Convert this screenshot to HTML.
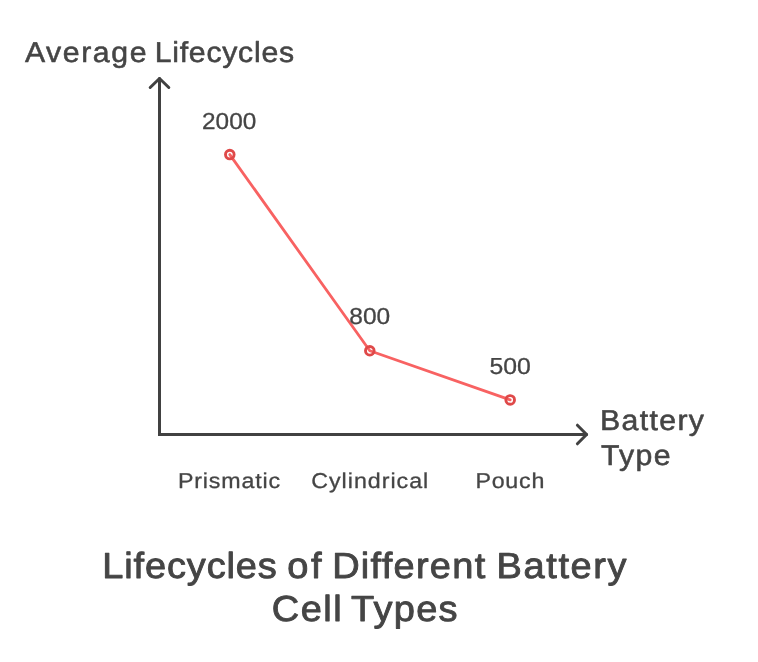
<!DOCTYPE html>
<html>
<head>
<meta charset="utf-8">
<title>Lifecycles of Different Battery Cell Types</title>
<style>
html,body{margin:0;padding:0;background:#ffffff;}
body{width:758px;height:662px;overflow:hidden;}
svg{display:block;}
text{font-family:"Liberation Sans",sans-serif;fill:#454545;stroke:#454545;stroke-linejoin:round;text-rendering:geometricPrecision;}
.ax{font-size:28.8px;stroke-width:0.55px;}
.val{font-size:23.1px;stroke-width:0.3px;}
.cat{font-size:21.5px;stroke-width:0.3px;}
.ttl{font-size:36.2px;stroke-width:0.9px;}
</style>
</head>
<body>
<svg width="758" height="662" viewBox="0 0 758 662" xmlns="http://www.w3.org/2000/svg">
  <rect width="758" height="662" fill="#ffffff"/>
  <!-- axes -->
  <g fill="none" stroke="#414141" stroke-width="3" stroke-linecap="round" stroke-linejoin="round">
    <path d="M159.5 78.5 V434.5 H586.6" stroke-linejoin="miter"/>
    <path d="M150.2 87.5 L159.5 78.5 L168.8 87.5"/>
    <path d="M577.4 425.2 L586.6 434.5 L577.4 443.8"/>
  </g>
  <!-- series -->
  <path d="M229.8 154.6 L369.8 350.8 L510.2 399.9" fill="none" stroke="#f86262" stroke-width="2.8" stroke-linecap="round" stroke-linejoin="round"/>
  <g fill="none" stroke="#df4949" stroke-width="2.9">
    <circle cx="229.8" cy="154.6" r="4.3"/>
    <circle cx="369.8" cy="350.8" r="4.3"/>
    <circle cx="510.2" cy="399.9" r="4.3"/>
  </g>
  <!-- labels -->
  <text class="ax" transform="translate(24.89 62.4) scale(1.05 1)" textLength="115.77" lengthAdjust="spacing">Average</text>
  <text class="ax" transform="translate(154.72 62.4) scale(1.05 1)" textLength="132.73" lengthAdjust="spacing">Lifecycles</text>
  <text class="ax" transform="translate(599.93 430.4) scale(1.05 1)" textLength="99.10" lengthAdjust="spacing">Battery</text>
  <text class="ax" transform="translate(600.88 464.9) scale(1.05 1)" textLength="66.32" lengthAdjust="spacing">Type</text>
  <text class="val" x="202.05" y="128.7" textLength="54.2" lengthAdjust="spacingAndGlyphs">2000</text>
  <text class="val" x="349.38" y="324.3" textLength="40.87" lengthAdjust="spacingAndGlyphs">800</text>
  <text class="val" x="489.45" y="374.0" textLength="41.34" lengthAdjust="spacingAndGlyphs">500</text>
  <text class="cat" transform="translate(177.95 487.6) scale(1.08 1)" textLength="94.66" lengthAdjust="spacing">Prismatic</text>
  <text class="cat" transform="translate(311.25 487.6) scale(1.08 1)" textLength="108.36" lengthAdjust="spacing">Cylindrical</text>
  <text class="cat" transform="translate(475.45 487.6) scale(1.08 1)" textLength="63.79" lengthAdjust="spacing">Pouch</text>
  <text class="ttl" transform="translate(102.28 578.0) scale(1.05 1)" textLength="166.26" lengthAdjust="spacing">Lifecycles</text>
  <text class="ttl" transform="translate(287.26 578.0) scale(1.05 1)" textLength="32.70" lengthAdjust="spacing">of</text>
  <text class="ttl" transform="translate(332.18 578.0) scale(1.05 1)" textLength="145.76" lengthAdjust="spacing">Different</text>
  <text class="ttl" transform="translate(496.57 578.0) scale(1.05 1)" textLength="123.84" lengthAdjust="spacing">Battery</text>
  <text class="ttl" transform="translate(271.74 620.8) scale(1.05 1)" textLength="66.70" lengthAdjust="spacing">Cell</text>
  <text class="ttl" transform="translate(351.12 620.8) scale(1.05 1)" textLength="101.40" lengthAdjust="spacing">Types</text>
</svg>
</body>
</html>
